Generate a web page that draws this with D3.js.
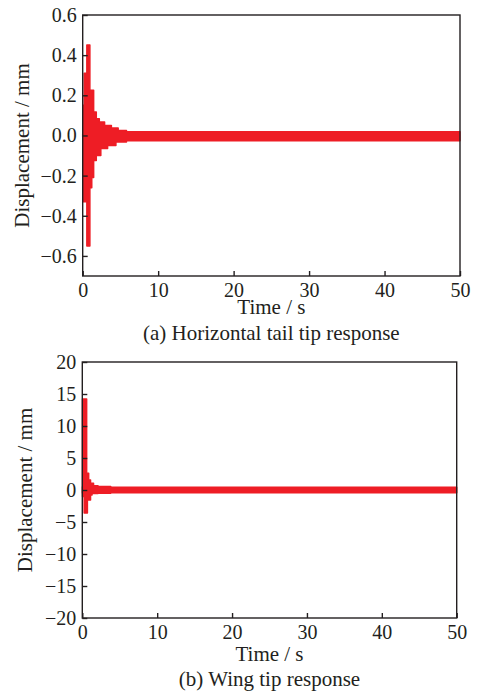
<!DOCTYPE html>
<html><head><meta charset="utf-8">
<script src="https://cdn.jsdelivr.net/npm/d3@7"></script>
<style>body{margin:0;background:#fff}svg{display:block}</style>
</head><body><svg id="c" width="478" height="693"></svg>
<script>
// ---- data ----
const timeTicks = [0, 10, 20, 30, 40, 50];
const tailTicks = [0.6, 0.4, 0.2, 0.0, -0.2, -0.4, -0.6];
const wingTicks = [20, 15, 10, 5, 0, -5, -10, -15, -20];

// horizontal tail tip response: oscillation envelope (s, mm)
const tailTime  = [0, 0.05, 0.2, 0.55, 0.95, 1.2, 1.45, 1.8, 2.2, 2.4, 2.9, 3.3, 3.8, 4.4, 4.7, 5.8, 50];
const tailUpper = [0.01, 0.15, 0.31, 0.45, 0.225, 0.225, 0.117, 0.083, 0.067, 0.067, 0.05, 0.05, 0.037, 0.037, 0.025, 0.018, 0.018];
const tailLower = [-0.01, -0.33, -0.33, -0.55, -0.26, -0.21, -0.125, -0.1, -0.1, -0.065, -0.065, -0.05, -0.05, -0.033, -0.033, -0.026, -0.026];

// wing tip response: oscillation envelope (s, mm)
const wingTime  = [0, 0.03, 0.25, 0.58, 0.68, 0.85, 1.1, 1.3, 1.5, 2.1, 3.8, 50];
const wingUpper = [0.5, 14.2, 14.2, 2.6, 2.6, 1.56, 1.04, 1.04, 0.68, 0.55, 0.42, 0.42];
const wingLower = [-0.5, -1.0, -3.6, -3.6, -1.56, -1.56, -0.78, -0.55, -0.55, -0.5, -0.42, -0.42];

const RED = "#ee1d25", INK = "#231f20";
const FONT = "'Liberation Serif','Times New Roman',serif";
const svg = d3.select("#c").style("background", "#fff");
svg.append("rect").attr("width", 478).attr("height", 693).attr("fill", "#fff");

function panel(o) {
  const x = d3.scaleLinear().domain([0, 50]).range([o.left, o.right]);
  const y = d3.scaleLinear().domain(o.ydom).range([o.bottom, o.top]);
  const g = svg.append("g");
  const pts = o.time.map((t, i) => ({t, u: o.upper[i], l: o.lower[i]}));
  const area = d3.area().curve(d3.curveStepAfter)
    .x(d => x(d.t)).y0(d => y(d.l)).y1(d => y(d.u));
  g.append("path").datum(pts).attr("d", area)
    .attr("fill", RED).attr("stroke", RED).attr("stroke-width", 1.5)
    .attr("stroke-linejoin", "round");

  g.append("rect").attr("x", o.left).attr("y", o.top)
    .attr("width", o.right - o.left).attr("height", o.bottom - o.top)
    .attr("fill", "none").attr("stroke", INK).attr("stroke-width", 1.4);

  const ya = g.append("g").attr("transform", `translate(${o.left},0)`)
    .call(d3.axisLeft(y).tickValues(o.yticks).tickFormat(o.fmt).tickSize(-5).tickSizeOuter(0).tickPadding(6));
  const xa = g.append("g").attr("transform", `translate(0,${o.bottom})`)
    .call(d3.axisBottom(x).tickValues(timeTicks).tickFormat(d3.format("d")).tickSize(-5).tickSizeOuter(0).tickPadding(7));
  [ya, xa].forEach(a => {
    a.select(".domain").remove();
    a.selectAll("line").attr("stroke", INK).attr("stroke-width", 1.4);
    a.selectAll("text").attr("fill", INK).style("font-family", FONT).style("font-size", "20px");
  });

  g.append("text").attr("transform", `translate(${o.ylabX},${(o.top + o.bottom) / 2}) rotate(-90)`)
    .attr("text-anchor", "middle").attr("fill", INK)
    .style("font-family", FONT).style("font-size", "21px").text("Displacement / mm");
  g.append("text").attr("x", (o.left + o.right) / 2).attr("y", o.xlabY)
    .attr("text-anchor", "middle").attr("fill", INK)
    .style("font-family", FONT).style("font-size", "21px").text("Time / s");
  g.append("text").attr("x", (o.left + o.right) / 2).attr("y", o.capY)
    .attr("text-anchor", "middle").attr("fill", INK)
    .style("font-family", FONT).style("font-size", "21px").text(o.caption);
}

panel({left: 82.7, right: 460, top: 15, bottom: 276, ydom: [-0.7, 0.6],
  yticks: tailTicks, fmt: d3.format(".1f"), time: tailTime, upper: tailUpper, lower: tailLower,
  ylabX: 29, xlabY: 314, capY: 340, caption: "(a) Horizontal tail tip response"});
panel({left: 82.3, right: 456.7, top: 362, bottom: 618, ydom: [-20, 20],
  yticks: wingTicks, fmt: d3.format("d"), time: wingTime, upper: wingUpper, lower: wingLower,
  ylabX: 32, xlabY: 661, capY: 686, caption: "(b) Wing tip response"});
</script></body></html>
